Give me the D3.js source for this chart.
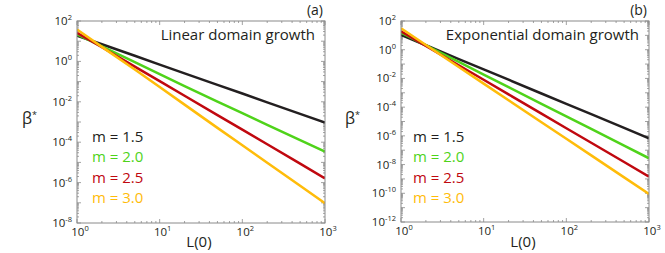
<!DOCTYPE html>
<html>
<head>
<meta charset="utf-8">
<script src="https://cdn.jsdelivr.net/npm/d3@7"></script>
<style>
  body { margin: 0; background: #fff; }
  svg { display: block; font-family: 'Open Sans', sans-serif; }
</style>
</head>
<body>
<svg width="665" height="253"></svg>
<script>
// L(0) sample points
const L0 = [1, 2, 5, 10, 20, 50, 100, 200, 500, 1000];
const mLabels = ['m = 1.5', 'm = 2.0', 'm = 2.5', 'm = 3.0'];
const seriesColors = ['#231f20', '#4fd31a', '#c0080f', '#ffbc0a'];

// (a) linear domain growth, beta* for m = 1.5, 2.0, 2.5, 3.0
const linM15 = [19.0, 7.08, 1.90, 0.692, 0.257, 0.0692, 0.0257, 9.33e-3, 2.51e-3, 9.33e-4];
const linM20 = [21.9, 5.62, 0.912, 0.234, 0.0603, 0.0102, 2.75e-3, 7.24e-4, 1.26e-4, 3.39e-5];
const linM25 = [26.3, 5.01, 0.550, 0.105, 0.0200, 2.19e-3, 4.17e-4, 7.94e-5, 8.71e-6, 1.62e-6];
const linM30 = [38.0, 5.25, 0.398, 0.0537, 7.24e-3, 5.13e-4, 7.08e-5, 9.55e-6, 6.92e-7, 9.55e-8];

// (b) exponential domain growth
const expM15 = [10.7, 2.04, 0.224, 0.0427, 8.13e-3, 8.91e-4, 1.70e-4, 3.24e-5, 3.55e-6, 6.76e-7];
const expM20 = [15.5, 2.04, 0.141, 0.0186, 2.51e-3, 1.70e-4, 2.29e-5, 3.02e-6, 2.09e-7, 2.75e-8];
const expM25 = [19.1, 1.82, 0.0832, 8.13e-3, 7.76e-4, 3.55e-5, 3.39e-6, 3.31e-7, 1.51e-8, 1.45e-9];
const expM30 = [30.9, 2.14, 0.0631, 4.37e-3, 3.02e-4, 8.91e-6, 6.31e-7, 4.37e-8, 1.29e-9, 8.91e-11];

const xTickExps = [0, 1, 2, 3];
const linYTickExps = [2, 0, -2, -4, -6, -8];
const expYTickExps = [2, 0, -2, -4, -6, -8, -10, -12];

const panels = [
  { x0: 77, x1: 325, y0: 21, y1: 223, yDomain: [1e-8, 1e2], yTicks: linYTickExps,
    tag: '(a)', title: 'Linear domain growth', series: [linM15, linM20, linM25, linM30],
    legendX: 92, betaX: 22 },
  { x0: 401, x1: 649, y0: 21, y1: 222, yDomain: [1e-12, 1e2], yTicks: expYTickExps,
    tag: '(b)', title: 'Exponential domain growth', series: [expM15, expM20, expM25, expM30],
    legendX: 413, betaX: 345 }
];

const svg = d3.select('svg');
const frameColor = '#8a8a8a';
const textColor = '#231f20';

function powLabel(sel, exp) {
  sel.append('tspan').text('10');
  sel.append('tspan').attr('dy', -5).attr('font-size', 7.5).text(exp);
}

panels.forEach((p, pi) => {
  const x = d3.scaleLog().domain([1, 1000]).range([p.x0, p.x1]);
  const y = d3.scaleLog().domain(p.yDomain).range([p.y1, p.y0]);
  const g = svg.append('g');

  g.append('clipPath').attr('id', 'clip' + pi)
    .append('rect')
    .attr('x', p.x0).attr('y', p.y0)
    .attr('width', p.x1 - p.x0).attr('height', p.y1 - p.y0);

  // ticks: majors at each decade, minors 2..9, inward on all four sides
  const xt = [];
  for (let e = 0; e < 3; e++) for (let k = 1; k < 10; k++) xt.push({ v: k * Math.pow(10, e), major: k === 1 });
  xt.push({ v: 1000, major: true });
  const [ylo, yhi] = p.yDomain.map(Math.log10);
  const yt = [];
  for (let e = ylo; e < yhi; e++) for (let k = 1; k < 10; k++) yt.push({ v: k * Math.pow(10, e), major: k === 1 });
  yt.push({ v: p.yDomain[1], major: true });

  const ticks = g.append('g').attr('stroke', frameColor).attr('stroke-width', 0.8);
  xt.forEach(t => {
    const len = t.major ? 4 : 2;
    const px = x(t.v);
    ticks.append('line').attr('x1', px).attr('x2', px).attr('y1', p.y1).attr('y2', p.y1 - len);
    ticks.append('line').attr('x1', px).attr('x2', px).attr('y1', p.y0).attr('y2', p.y0 + len);
  });
  yt.forEach(t => {
    const len = t.major ? 4 : 2;
    const py = y(t.v);
    ticks.append('line').attr('y1', py).attr('y2', py).attr('x1', p.x0).attr('x2', p.x0 + len);
    ticks.append('line').attr('y1', py).attr('y2', py).attr('x1', p.x1).attr('x2', p.x1 - len);
  });

  // series lines
  const line = d3.line().x((d, i) => x(L0[i])).y(d => y(d));
  g.append('g').attr('clip-path', `url(#clip${pi})`)
    .selectAll('path')
    .data(p.series)
    .join('path')
    .attr('d', line)
    .attr('fill', 'none')
    .attr('stroke', (d, i) => seriesColors[i])
    .attr('stroke-width', 2.5);

  // frame
  g.append('rect')
    .attr('x', p.x0).attr('y', p.y0)
    .attr('width', p.x1 - p.x0).attr('height', p.y1 - p.y0)
    .attr('fill', 'none').attr('stroke', frameColor).attr('stroke-width', 1);

  // tick labels
  xTickExps.forEach(e => {
    g.append('text')
      .attr('x', x(Math.pow(10, e)) + 3).attr('y', p.y1 + 13)
      .attr('text-anchor', 'middle').attr('font-size', 11.5).attr('fill', textColor)
      .call(powLabel, e);
  });
  p.yTicks.forEach(e => {
    g.append('text')
      .attr('x', p.x0 - 5).attr('y', y(Math.pow(10, e)) + 4)
      .attr('text-anchor', 'end').attr('font-size', 11.5).attr('fill', textColor)
      .call(powLabel, e);
  });

  // axis titles
  g.append('text')
    .attr('x', (p.x0 + p.x1) / 2 - 2).attr('y', 247)
    .attr('text-anchor', 'middle').attr('font-size', 15).attr('fill', textColor)
    .text('L(0)');
  const beta = g.append('text')
    .attr('x', p.betaX).attr('y', 124)
    .attr('font-size', 16).attr('fill', textColor);
  beta.append('tspan').text('β');
  beta.append('tspan').attr('dy', -6).attr('font-size', 9).text('*');

  // panel tag and title
  g.append('text')
    .attr('x', p.x1 - 2).attr('y', 15)
    .attr('text-anchor', 'end').attr('font-size', 14).attr('fill', textColor)
    .text(p.tag);
  g.append('text')
    .attr('x', p.x1 - 10).attr('y', 40)
    .attr('text-anchor', 'end').attr('font-size', 15).attr('fill', textColor)
    .text(p.title);

  // legend
  g.selectAll('.legend')
    .data(mLabels)
    .join('text')
    .attr('class', 'legend')
    .attr('x', p.legendX)
    .attr('y', (d, i) => 142 + i * 20.4)
    .attr('font-size', 15)
    .attr('fill', (d, i) => seriesColors[i])
    .text(d => d);
});
</script>
</body>
</html>
